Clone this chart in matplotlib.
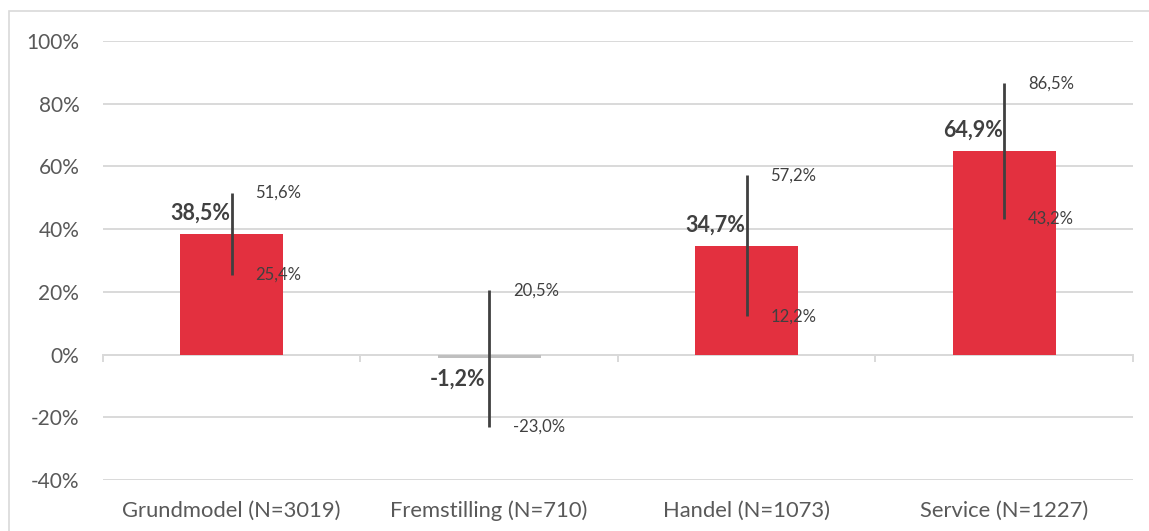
import matplotlib.pyplot as plt
from matplotlib.patches import Rectangle

# data
categories = ['Grundmodel (N=3019)', 'Fremstilling (N=710)', 'Handel (N=1073)', 'Service (N=1227)']
values = [38.5, -1.2, 34.7, 64.9]
lower = [25.4, -23.0, 12.2, 43.2]
upper = [51.6, 20.5, 57.2, 86.5]
bar_colors = ['#E3303F', '#BFBFBF', '#E3303F', '#E3303F']

plt.rcParams['font.family'] = ['Lato', 'DejaVu Sans']

fig = plt.figure(figsize=(11.49, 5.31), dpi=100)
ax = fig.add_axes([0.0896, 0.096, 0.8964, 0.8268])

# outer border like the excel chart area
fig.patches.append(Rectangle((9 / 1149, -0.01), 1.1, 1 - 11 / 531 + 0.01, transform=fig.transFigure,
                             fill=False, edgecolor='#D9D9D9', linewidth=1.2))

x = range(len(categories))
ax.bar(x, values, width=0.4, color=bar_colors, zorder=2)
ax.vlines(x, lower, upper, color='#404040', linewidth=2.0, zorder=3)

def fmt(v):
    return f'{v:.1f}%'.replace('.', ',')

for i in x:
    v = values[i]
    if v >= 0:
        ax.annotate(fmt(v), (i, v), xytext=(-1, 15), textcoords='offset points',
                    ha='right', va='center', fontsize=15.5, fontweight='bold', color='#404040', zorder=4)
    else:
        ax.annotate(fmt(v), (i, v), xytext=(-3, -15), textcoords='offset points',
                    ha='right', va='center', fontsize=15.5, fontweight='bold', color='#404040', zorder=4)
    ax.annotate(fmt(upper[i]), (i, upper[i]), xytext=(17, 0), textcoords='offset points',
                ha='left', va='center', fontsize=12, color='#404040', zorder=4)
    ax.annotate(fmt(lower[i]), (i, lower[i]), xytext=(17, 0), textcoords='offset points',
                ha='left', va='center', fontsize=12, color='#404040', zorder=4)

ax.set_xlim(-0.5, 3.5)
ax.set_ylim(-40, 100)
ax.set_yticks(range(-40, 101, 20))
ax.set_yticklabels([f'{t}%' for t in range(-40, 101, 20)])
ax.set_xticks(list(x))
ax.set_xticklabels(categories)
ax.tick_params(axis='both', length=0, labelsize=15, labelcolor='#595959')
ax.tick_params(axis='x', labelsize=15.8, pad=15)
ax.tick_params(axis='y', pad=17)

ax.yaxis.grid(True, color='#D9D9D9', linewidth=1.4, zorder=0)
ax.set_axisbelow(True)
for s in ax.spines.values():
    s.set_visible(False)

# zero axis line with small ticks between categories
ax.axhline(0, color='#D9D9D9', linewidth=1.4, zorder=1)
for b in [-0.5, 0.5, 1.5, 2.5, 3.5]:
    ax.plot([b, b], [0, -2], color='#D9D9D9', linewidth=1.4, zorder=1, clip_on=False)

fig.savefig('out.png', dpi=100)
